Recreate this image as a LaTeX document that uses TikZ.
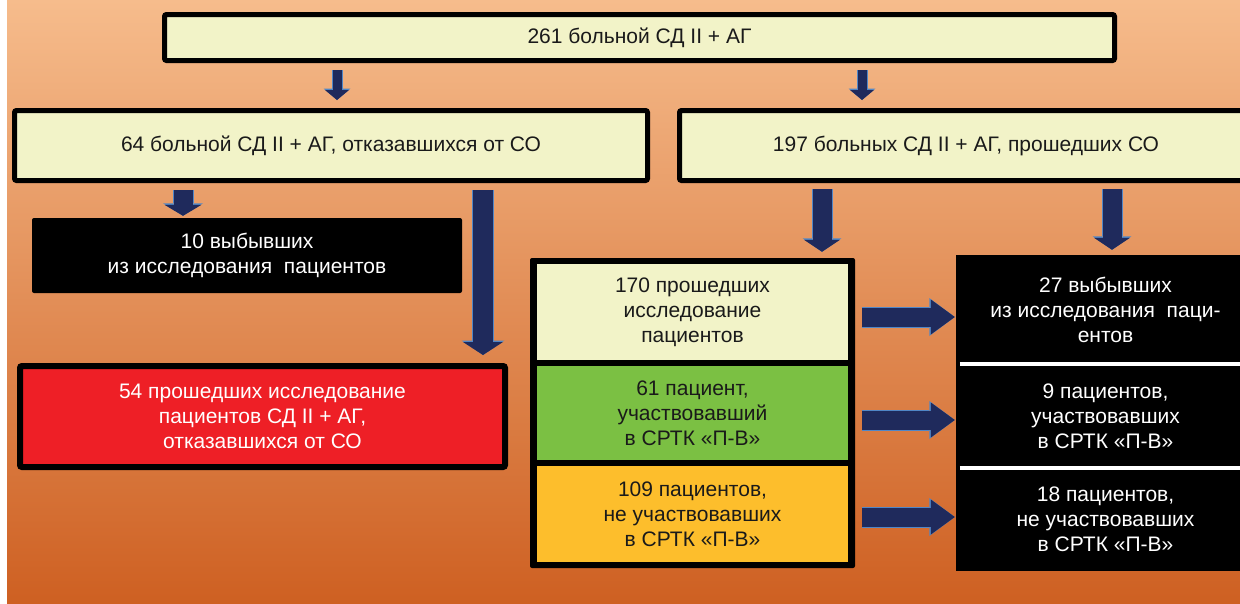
\documentclass[tikz,border=0pt]{standalone}
\usepackage{fontspec}
\setmainfont{Liberation Sans}
\usetikzlibrary{arrows.meta}
\definecolor{bgtop}{RGB}{246,188,140}
\definecolor{bgmid}{RGB}{241,152,88}
\definecolor{bgbottom}{RGB}{206,96,34}
\definecolor{cream}{RGB}{242,243,200}
\definecolor{boxred}{RGB}{238,31,38}
\definecolor{boxgreen}{RGB}{123,192,67}
\definecolor{boxyellow}{RGB}{253,190,44}
\definecolor{arrownavy}{RGB}{31,42,92}
\definecolor{arrowrim}{RGB}{80,134,198}
\definecolor{textdark}{RGB}{26,26,26}
\newcommand{\flowfont}{\fontsize{21}{25}\selectfont}
\tikzset{
  framed/.style={draw=black, line width=5pt, rounded corners=2pt, inner sep=0pt, align=center, text=textdark, font=\flowfont},
  darkcell/.style={fill=black, text=white, inner sep=0pt, align=center, font=\flowfont},
  cell/.style={inner sep=0pt, align=center, text=textdark, font=\flowfont},
  blockarrow/.style n args={3}{line width=#1, draw=arrownavy, -{Triangle[width=#2, length=#3, line width=0pt]},
    preaction={draw=arrowrim, line width=#1+2pt, -{Triangle[width=#2+3pt, length=#3+1.5pt, line width=0pt]}}},
  divider/.style={draw=white, line width=4pt}
}
\begin{document}
\begin{tikzpicture}[x=1pt, y=-1pt]
    \useasboundingbox (0,0) rectangle (1240,603);
    \clip (0,0) rectangle (1240,603);
    \fill[white] (0,0) rectangle (1240,603);
    \shade[top color=bgtop, middle color=bgmid, bottom color=bgbottom] (7,0) rectangle (1240,603);

    \node[framed, fill=cream, minimum width=950, minimum height=46] (top) at (639.5,37.5) {261 больной СД II + АГ};
    \node[framed, fill=cream, minimum width=633, minimum height=70] (lbox) at (331,145.5) {64 больной СД II + АГ, отказавшихся от СО};
    \node[framed, fill=cream, minimum width=573, minimum height=70] (rbox) at (966,145.5) {197 больных СД II + АГ, прошедших СО};

    \node[darkcell, rounded corners=2pt, minimum width=430, minimum height=75] (drop10) at (247,255.5) {10 выбывших\\из исследования~ пациентов};
    \node[framed, line width=6pt, fill=boxred, text=white, minimum width=485, minimum height=101] (red54) at (262.5,416.5) {54 прошедших исследование\\пациентов СД II + АГ,\\отказавшихся от СО};

    \node[fill=black, rounded corners=2pt, minimum width=325, minimum height=310] (stack) at (692.5,413) {};
    \node[cell, fill=cream, minimum width=311, minimum height=96] (c170) at (692.5,312) {170 прошедших\\исследование\\пациентов};
    \node[cell, fill=boxgreen, minimum width=311, minimum height=94] (c61) at (692.5,413) {61 пациент,\\участвовавший\\в СРТК «П-В»};
    \node[cell, fill=boxyellow, minimum width=311, minimum height=96] (c109) at (692.5,514) {109 пациентов,\\не участвовавших\\в СРТК «П-В»};

    \node[darkcell, minimum width=299, minimum height=109] (out27) at (1105.5,309.5) {27 выбывших\\из исследования~ паци-\\ентов};
    \node[darkcell, minimum width=299, minimum height=104] (out9) at (1105.5,416) {9 пациентов,\\участвовавших\\в СРТК «П-В»};
    \node[darkcell, minimum width=299, minimum height=103] (out18) at (1105.5,519.5) {18 пациентов,\\не участвовавших\\в СРТК «П-В»};
    \draw[divider] ([xshift=4pt]out27.south west) -- (out27.south east);
    \draw[divider] ([xshift=4pt]out9.south west) -- (out9.south east);

    \coordinate (colA) at (337,0);
    \coordinate (colB) at (862,0);
    \coordinate (colC) at (183,0);
    \coordinate (colD) at (483,0);
    \coordinate (colE) at (822,0);
    \coordinate (colF) at (1112,0);
    \coordinate (row1) at (0,317);
    \coordinate (row2) at (0,420);
    \coordinate (row3) at (0,517);

    \draw[blockarrow={9pt}{24pt}{10pt}, shorten <=7pt, shorten >=8pt] (colA |- top.south) -- (colA |- lbox.north);
    \draw[blockarrow={9pt}{24pt}{10pt}, shorten <=7pt, shorten >=8pt] (colB |- top.south) -- (colB |- rbox.north);
    \draw[blockarrow={19pt}{37pt}{11pt}, shorten <=7pt, shorten >=2pt] (colC |- lbox.south) -- (colC |- drop10.north);
    \draw[blockarrow={20pt}{40pt}{13pt}, shorten <=7pt, shorten >=8pt] (colD |- lbox.south) -- (colD |- red54.north);
    \draw[blockarrow={19pt}{36pt}{12pt}, shorten <=6pt, shorten >=6pt] (colE |- rbox.south) -- (colE |- stack.north);
    \draw[blockarrow={19pt}{36pt}{12pt}, shorten <=6pt, shorten >=5pt] (colF |- rbox.south) -- (colF |- out27.north);

    \draw[blockarrow={19pt}{35pt}{24pt}, shorten <=7pt, shorten >=1pt] (stack.east |- row1) -- (out27.west |- row1);
    \draw[blockarrow={19pt}{35pt}{24pt}, shorten <=7pt, shorten >=1pt] (stack.east |- row2) -- (out9.west |- row2);
    \draw[blockarrow={19pt}{35pt}{24pt}, shorten <=7pt, shorten >=1pt] (stack.east |- row3) -- (out18.west |- row3);
\end{tikzpicture}
\end{document}
